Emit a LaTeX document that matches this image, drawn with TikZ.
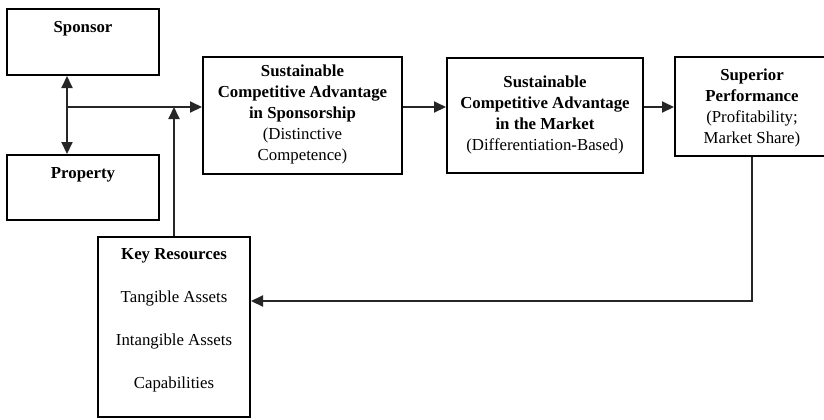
\documentclass[tikz,border=0pt]{standalone}
\usepackage{fontspec}
\setmainfont{Liberation Serif}
\usetikzlibrary{arrows.meta}
\begin{document}
\begin{tikzpicture}[x=0.5pt,y=-0.5pt,
  box/.style={draw=black, line width=1pt, fill=white, inner sep=0pt},
  txt/.style={align=center, inner sep=0pt, font=\fontsize{8.4}{10.5}\selectfont},
  conn/.style={draw=black!85, line width=1pt},
  tip/.style={-{Triangle[length=6pt,width=5.5pt]}},
  tips/.style={{Triangle[length=6pt,width=5.5pt]}-{Triangle[length=6pt,width=5.5pt]}}]
\useasboundingbox (0,0) rectangle (824,419);
\clip (0,0) rectangle (824,419);
% boxes
\node[box, minimum width=76pt, minimum height=33pt] (sponsor) at (83,42) {};
\node[box, minimum width=76pt, minimum height=32.5pt] (property) at (83,187.5) {};
\node[box, minimum width=76pt, minimum height=90pt] (keyres) at (174,327) {};
\node[box, minimum width=99.5pt, minimum height=58.5pt] (sca) at (302.5,115.5) {};
\node[box, minimum width=98pt, minimum height=57.5pt] (market) at (545,115.5) {};
\node[box, minimum width=77pt, minimum height=49.5pt] (superior) at (752,106.5) {};
% texts
\node[txt] (sponsorT) at (83,29) {\textbf{Sponsor}};
\node[txt] (propertyT) at (83,175) {\textbf{Property}};
\node[txt] (keyresT) at (174,320) {\textbf{Key Resources}\\[11pt]Tangible Assets\\[11pt]Intangible Assets\\[11pt]Capabilities};
\node[txt] (scaT) at (302.5,114.5) {\textbf{Sustainable}\\\textbf{Competitive Advantage}\\\textbf{in Sponsorship}\\(Distinctive\\Competence)};
\node[txt] (marketT) at (545,114.5) {\textbf{Sustainable}\\\textbf{Competitive Advantage}\\\textbf{in the Market}\\(Differentiation-Based)};
\node[txt] (superiorT) at (752,107.5) {\textbf{Superior}\\\textbf{Performance}\\(Profitability;\\Market Share)};
% connectors
\coordinate (j) at (67,107);
\coordinate (r) at (0,301);
\draw[conn, tips] (sponsor.south -| j) -- (property.north -| j);
\draw[conn, tip] (j) -- (j -| sca.west);
\draw[conn, tip] (keyres.north) -- (keyres.north |- j);
\draw[conn, tip] (sca.east |- j) -- (market.west |- j);
\draw[conn, tip] (market.east |- j) -- (superior.west |- j);
\draw[conn, tip] (superior.south) |- (keyres.east |- r);
\end{tikzpicture}
\end{document}
